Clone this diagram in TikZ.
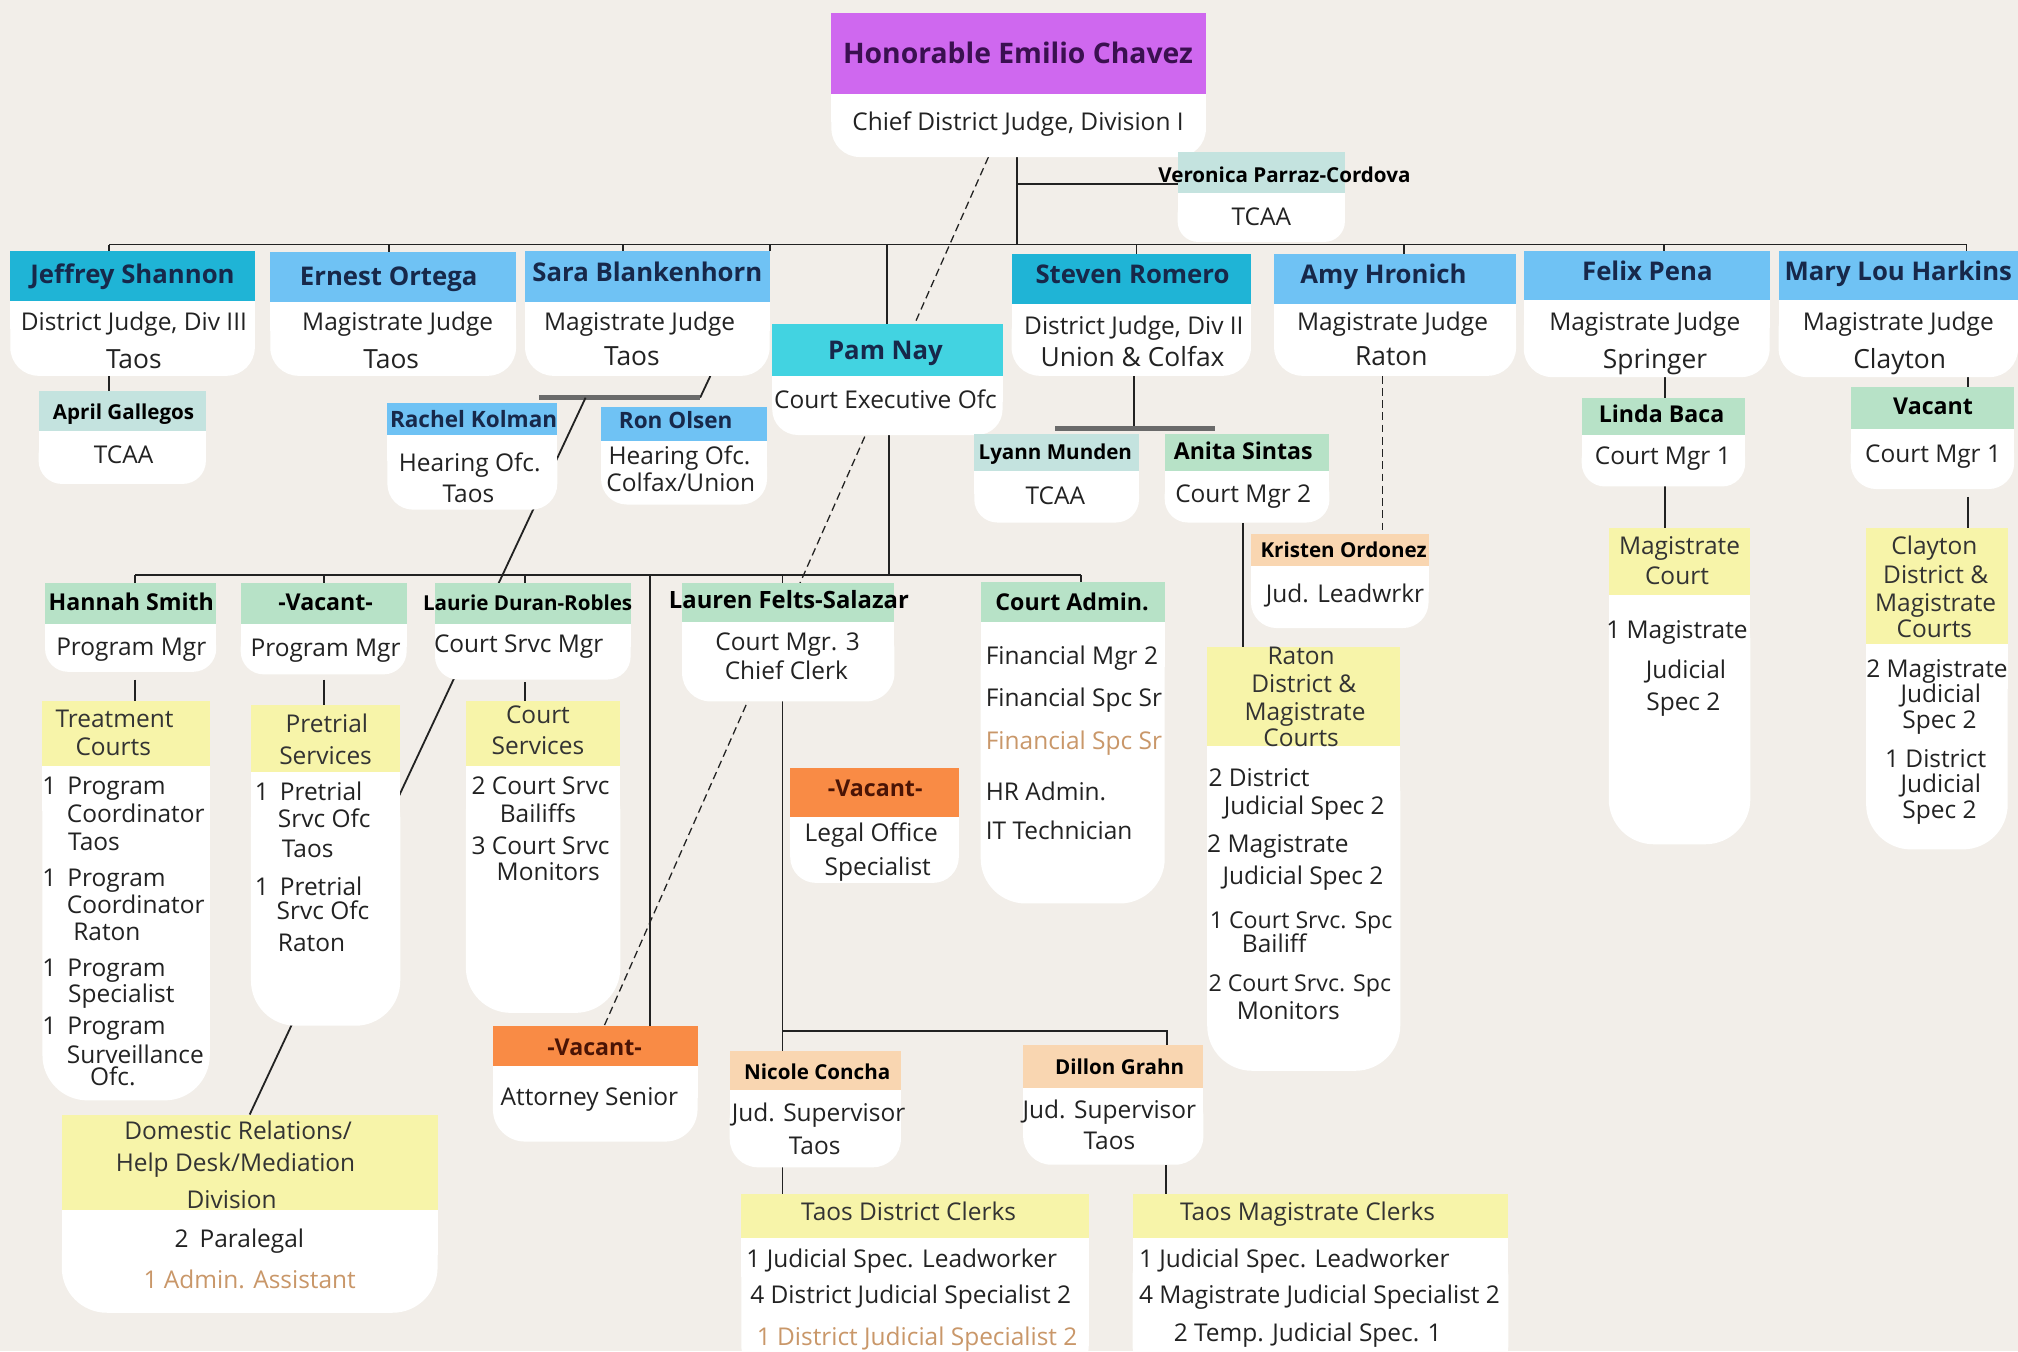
\documentclass[tikz,border=0pt]{standalone}
\usepackage{fontspec}
\setmainfont{Open Sans}
\usetikzlibrary{calc}
\definecolor{bg}{HTML}{F2EEE9}
\definecolor{purp}{HTML}{CF68EF}
\definecolor{purptxt}{HTML}{3A1050}
\definecolor{dcyan}{HTML}{1FB4D6}
\definecolor{lblue}{HTML}{6FC2F4}
\definecolor{pcyan}{HTML}{42D3E1}
\definecolor{lteal}{HTML}{C4E3DF}
\definecolor{lgreen}{HTML}{B7E2C7}
\definecolor{yel}{HTML}{F7F4A9}
\definecolor{peach}{HTML}{F9D6B1}
\definecolor{orng}{HTML}{F98B45}
\definecolor{tanc}{HTML}{C99769}
\definecolor{navy}{HTML}{17284A}
\definecolor{ink}{HTML}{222222}
\definecolor{barc}{HTML}{6A6A6A}
\definecolor{vactxt}{HTML}{4A1405}
\pgfdeclarelayer{bgl}
\pgfdeclarelayer{cn}
\pgfsetlayers{bgl,cn,main}
\tikzset{
  hdr/.style={inner sep=0pt, outer sep=0pt, draw=none},
  txt/.style={inner sep=0pt, outer sep=0pt, text=ink, text height=0.72em, text depth=0pt, yshift=-3.5pt, font=\fontsize{19}{22}\selectfont},
  nm/.style={font=\fontsize{20}{24}\selectfont\bfseries, text=navy},
  nmb/.style={font=\fontsize{17.5}{21}\selectfont\bfseries, text=navy},
  sn/.style={font=\fontsize{16}{19}\selectfont\bfseries, text=black},
  snb/.style={font=\fontsize{18}{21}\selectfont\bfseries, text=black},
  loc/.style={font=\fontsize{20.5}{24}\selectfont},
  smt/.style={font=\fontsize{18}{21}\selectfont},
  hy/.style={text=black!80},
  tanw/.style={text=tanc},
  lw/.style={anchor=west},
  conn/.style={draw=ink, line width=1.4pt},
  grbar/.style={draw=barc, line width=3.5pt},
  dsh/.style={draw=ink, line width=1pt, dash pattern=on 6pt off 3.5pt},
}
\newcounter{tnum}
\newcommand{\txtat}[4][]{\stepcounter{tnum}\node[txt,#1] (t\arabic{tnum}) at (#2,#3) {#4};}
% name, x1, y1, x2, yh, y2, color, radius
\newcommand{\orgbox}[8]{%
  \fill[white, rounded corners=#8pt] (#2,#5) rectangle (#4,#6);
  \fill[white] (#2,#5) rectangle (#4,{#5+#8});
  \pgfmathsetmacro\bw{#4-#2}\pgfmathsetmacro\bh{#5-#3}%
  \node[hdr, fill=#7, minimum width=\bw pt, minimum height=\bh pt, anchor=north west] (#1) at (#2,#3) {};
  \coordinate (#1b) at ({(#2+#4)/2},#6);
}
\begin{document}
\begin{tikzpicture}[x=1pt,y=-1pt]
\useasboundingbox (0,0) rectangle (1568,1050);
\begin{pgfonlayer}{bgl}
\fill[bg] (0,0) rectangle (1568,1050);
\end{pgfonlayer}
\clip (0,0) rectangle (1568,1050);

% ---------------- boxes ----------------
\orgbox{chav}{646}{10}{937}{73}{122}{purp}{22}
\orgbox{vero}{915}{118}{1045}{150}{188}{lteal}{16}
\orgbox{jeff}{8}{195}{198}{234}{292}{dcyan}{22}
\orgbox{ernest}{210}{196}{401}{235}{292}{lblue}{22}
\orgbox{sara}{408}{195}{598}{235}{292}{lblue}{22}
\orgbox{steven}{786}{197}{972}{236}{292}{dcyan}{22}
\orgbox{amy}{990}{197}{1178}{236}{292}{lblue}{22}
\orgbox{felix}{1184}{195}{1375}{233}{293}{lblue}{22}
\orgbox{mary}{1382}{195}{1568}{233}{293}{lblue}{22}
\orgbox{pam}{600}{252}{779}{292}{338}{pcyan}{20}
\orgbox{april}{30}{304}{160}{335}{376}{lteal}{18}
\orgbox{rachel}{301}{313}{433}{338}{396}{lblue}{20}
\orgbox{ron}{467}{316}{596}{343}{392}{lblue}{20}
\orgbox{lyann}{757}{337}{885}{366}{406}{lteal}{18}
\orgbox{anita}{905}{337}{1033}{366}{406}{lgreen}{18}
\orgbox{kris}{972}{415}{1110}{440}{488}{peach}{20}
\orgbox{linda}{1229}{309}{1356}{338}{378}{lgreen}{18}
\orgbox{vacone}{1438}{301}{1565}{333}{380}{lgreen}{20}
\orgbox{magc}{1250}{410}{1360}{462}{656}{yel}{35}
\orgbox{clay}{1450}{410}{1560}{500}{660}{yel}{35}
\orgbox{hannah}{35}{453}{168}{485}{522}{lgreen}{18}
\orgbox{vacpm}{187}{453}{316}{485}{524}{lgreen}{18}
\orgbox{laurie}{338}{453}{490}{485}{528}{lgreen}{18}
\orgbox{lauren}{530}{453}{695}{483}{545}{lgreen}{22}
\orgbox{cadm}{762}{452}{905}{483}{702}{lgreen}{35}
\orgbox{vaclg}{614}{597}{745}{635}{686}{orng}{20}
\orgbox{treat}{33}{545}{163}{595}{855}{yel}{35}
\orgbox{pret}{195}{548}{311}{600}{797}{yel}{35}
\orgbox{csrv}{362}{545}{482}{595}{787}{yel}{35}
\orgbox{raton}{938}{503}{1088}{580}{832}{yel}{35}
\orgbox{vacatt}{383}{797}{542}{828}{887}{orng}{25}
\orgbox{nicole}{567}{817}{700}{847}{907}{peach}{22}
\orgbox{dillon}{795}{812}{935}{845}{905}{peach}{22}
\orgbox{tdc}{576}{928}{846}{962}{1075}{yel}{30}
\orgbox{tmc}{880}{928}{1172}{962}{1075}{yel}{30}
\orgbox{dom}{48}{866}{340}{940}{1020}{yel}{35}

% ---------------- connectors ----------------
\begin{pgfonlayer}{cn}
\coordinate (busL) at (85,190);
\coordinate (busR) at (1528,190);
\draw[conn] (busL) -- (busR);
\coordinate (chl) at (790,122);
\draw[conn] (chl) -- (chl |- busL);
\draw[conn] (chl |- vero.west) ++(0,9) -- ($(vero.west)+(0,9)$);
\foreach \xx/\nn in {85/jeff,302/ernest,484/sara,883/steven,1091/amy,1293/felix,1528/mary}{
  \coordinate (tk\nn) at (\xx,190);
  \draw[conn] (tk\nn) -- (tk\nn |- \nn.north);
}
\draw[conn] (sara.north east |- busL) -- (sara.north east);
\draw[conn] (pam.north |- busL) -- (pam.north);
% chief's dashed line
\coordinate (ds0) at (768,122);
\draw[dsh] (ds0) -- ($(vacatt.north)+(7,0)$);
% Jeffrey -> April
\draw[conn] (tkjeff |- jeffb) -- (tkjeff |- april.north);
% Sara -> hearing officers
\coordinate (sb1) at (552,292);
\coordinate (sb2) at (544,309);
\coordinate (sb0) at (419,309);
\draw[conn] (sb1) -- (sb2);
\draw[grbar] (sb0) -- (sb2);
\coordinate (sl1) at (455,309);
\draw[conn] (sl1) -- (dom.north);
% Steven -> TCAA / Court Mgr 2
\coordinate (sv) at (881,292);
\coordinate (sbr1) at (820,333);
\coordinate (sbr2) at (944,333);
\draw[conn] (sv) -- (sv |- sbr1);
\draw[grbar] (sbr1) -- (sbr2);
% Anita -> Raton courts
\coordinate (an) at (966,406);
\draw[conn] (an) -- (an |- raton.north);
% Amy -> Kristen (dashed)
\coordinate (amd) at (1074,292);
\draw[dsh] (amd) -- (amd |- kris.north);
% Felix -> Linda -> Magistrate Court
\coordinate (fx) at (1294,293);
\draw[conn] (fx) -- (fx |- linda.north);
\draw[conn] (fx |- lindab) -- (fx |- magc.north);
% Mary -> Vacant -> Clayton
\coordinate (mx) at (1529,293);
\draw[conn] (mx) -- (mx |- vacone.north);
\draw[conn] ($(mx |- vaconeb)+(0,6)$) -- (mx |- clay.north);
% Pam -> lower bus
\coordinate (lbL) at (105,447);
\coordinate (lbR) at (840,447);
\coordinate (pv) at (691,338);
\draw[conn] (pv) -- (pv |- lbL);
\draw[conn] (lbL) -- (lbR);
\draw[conn] (lbR) -- (lbR |- cadm.north);
\foreach \xx/\nn in {105/hannah,252/vacpm,408/laurie,608/lauren}{
  \coordinate (lt\nn) at (\xx,447);
  \draw[conn] (lt\nn) -- (lt\nn |- \nn.north);
}
\coordinate (v505) at (505,447);
\draw[conn] (v505) -- (v505 |- vacatt.north);
% managers -> units
\draw[conn] ($(lthannah |- hannahb)+(0,6)$) -- (lthannah |- treat.north);
\draw[conn] ($(ltvacpm |- vacpmb)+(0,4)$) -- (ltvacpm |- pret.north);
\draw[conn] ($(ltlaurie |- laurieb)+(0,2)$) -- (ltlaurie |- csrv.north);
% Lauren -> supervisors
\coordinate (lz) at (608,545);
\coordinate (lh) at (608,801);
\coordinate (dg) at (907,801);
\draw[conn] (lz) -- (lz |- nicole.north);
\draw[conn] (lh) -- (dg) -- (dg |- dillon.north);
\draw[conn] (lz |- nicoleb) -- (lz |- tdc.north);
\coordinate (dz) at (906,905);
\draw[conn] (dz) -- (dz |- tmc.north);
\end{pgfonlayer}

% ---------------- texts ----------------
\txtat[font=\fontsize{22}{26}\selectfont\bfseries, text=purptxt]{791}{42}{Honorable Emilio Chavez}
\txtat{791}{94}{Chief District Judge, Division I}
\txtat[sn]{998}{135}{Veronica Parraz-Cordova}
\txtat{980}{168}{TCAA}

\txtat[nm]{103}{213}{Jeffrey Shannon}
\txtat{104}{250}{District Judge, Div III}
\txtat[loc]{104}{279}{Taos}
\txtat[nm]{302}{215}{Ernest Ortega}
\txtat{309}{250}{Magistrate Judge}
\txtat[loc]{304}{279}{Taos}
\txtat[nm]{503}{212}{Sara Blankenhorn}
\txtat{497}{250}{Magistrate Judge}
\txtat[loc]{491}{277}{Taos}
\txtat[nm]{880}{213}{Steven Romero}
\txtat{881}{253}{District Judge, Div II}
\txtat[loc]{880}{278}{Union \& Colfax}
\txtat[nm]{1075}{213}{Amy Hronich}
\txtat{1082}{250}{Magistrate Judge}
\txtat[loc]{1081}{277}{Raton}
\txtat[nm]{1280}{211}{Felix Pena}
\txtat{1278}{250}{Magistrate Judge}
\txtat[loc]{1286}{279}{Springer}
\txtat[nm]{1475}{211}{Mary Lou Harkins}
\txtat{1475}{250}{Magistrate Judge}
\txtat[loc]{1476}{279}{Clayton}

\txtat[nm]{688}{272}{Pam Nay}
\txtat{688}{310}{Court Executive Ofc}
\txtat[sn]{96}{319}{April Gallegos}
\txtat{96}{353}{TCAA}
\txtat[nmb]{368}{325}{Rachel Kolman}
\txtat{365}{359}{Hearing Ofc.}
\txtat{364}{383}{Taos}
\txtat[nmb]{525}{326}{Ron Olsen}
\txtat{528}{354}{Hearing Ofc.}
\txtat{529}{375}{Colfax/Union}
\txtat[sn]{820}{350}{Lyann Munden}
\txtat{820}{385}{TCAA}
\txtat[snb]{966}{350}{Anita Sintas}
\txtat{966}{383}{Court Mgr 2}
\txtat[sn]{1044}{426}{Kristen Ordonez}
\txtat{1045}{461}{Jud. Leadwrkr}
\txtat[snb]{1291}{321}{Linda Baca}
\txtat{1292}{354}{Court Mgr 1}
\txtat[snb]{1502}{315}{Vacant}
\txtat{1502}{352}{Court Mgr 1}

\txtat[hy]{1305}{424}{Magistrate}
\txtat[hy]{1303}{447}{Court}
\txtat{1303}{489}{1 Magistrate}
\txtat{1310}{520}{Judicial}
\txtat{1308}{545}{Spec 2}

\txtat[hy]{1503}{424}{Clayton}
\txtat[hy]{1504}{446}{District \&}
\txtat[hy]{1504}{468}{Magistrate}
\txtat[hy]{1503}{488}{Courts}
\txtat{1505}{519}{2 Magistrate}
\txtat{1508}{539}{Judicial}
\txtat{1507}{559}{Spec 2}
\txtat{1504}{589}{1 District}
\txtat{1508}{609}{Judicial}
\txtat{1507}{629}{Spec 2}

\txtat[snb]{102}{467}{Hannah Smith}
\txtat{102}{502}{Program Mgr}
\txtat[snb]{253}{467}{-Vacant-}
\txtat{253}{503}{Program Mgr}
\txtat[sn]{410}{467}{Laurie Duran-Robles}
\txtat{403}{500}{Court Srvc Mgr}
\txtat[font=\fontsize{18.5}{22}\selectfont\bfseries, text=black]{613}{466}{Lauren Felts-Salazar}
\txtat{612}{498}{Court Mgr. 3}
\txtat{611}{521}{Chief Clerk}
\txtat[snb]{833}{467}{Court Admin.}
\txtat[lw]{766}{509}{Financial Mgr 2}
\txtat[lw]{766}{542}{Financial Spc Sr}
\txtat[lw,tanw]{766}{575}{Financial Spc Sr}
\txtat[lw]{766}{615}{HR Admin.}
\txtat[lw]{766}{645}{IT Technician}
\txtat[snb, text=vactxt]{680}{612}{-Vacant-}
\txtat{677}{647}{Legal Office}
\txtat{682}{673}{Specialist}

\txtat[hy]{89}{558}{Treatment}
\txtat[hy]{88}{580}{Courts}
\txtat[lw]{33}{610}{1\hspace{0.45em}Program}
\txtat[lw]{52}{632}{Coordinator}
\txtat[lw]{53}{654}{Taos}
\txtat[lw]{33}{682}{1\hspace{0.45em}Program}
\txtat[lw]{52}{703}{Coordinator}
\txtat[lw]{57}{724}{Raton}
\txtat[lw]{33}{752}{1\hspace{0.45em}Program}
\txtat[lw]{53}{772}{Specialist}
\txtat[lw]{33}{797}{1\hspace{0.45em}Program}
\txtat[lw]{52}{819}{Surveillance}
\txtat[lw]{70}{836}{Ofc.}

\txtat[hy]{254}{562}{Pretrial}
\txtat[hy]{253}{587}{Services}
\txtat[lw]{198}{615}{1\hspace{0.45em}Pretrial}
\txtat[lw]{216}{636}{Srvc Ofc}
\txtat[lw]{219}{659}{Taos}
\txtat[lw]{198}{689}{1\hspace{0.45em}Pretrial}
\txtat[lw]{215}{707}{Srvc Ofc}
\txtat[lw]{216}{732}{Raton}

\txtat[hy]{418}{555}{Court}
\txtat[hy]{418}{579}{Services}
\txtat{420}{610}{2 Court Srvc}
\txtat{418}{632}{Bailiffs}
\txtat{420}{657}{3 Court Srvc}
\txtat{426}{677}{Monitors}

\txtat[hy]{1011}{509}{Raton}
\txtat[hy]{1013}{531}{District \&}
\txtat[hy]{1014}{553}{Magistrate}
\txtat[hy]{1011}{573}{Courts}
\txtat[lw]{939}{604}{2 District}
\txtat[lw]{951}{626}{Judicial Spec 2}
\txtat[lw]{938}{655}{2 Magistrate}
\txtat[lw]{950}{680}{Judicial Spec 2}
\txtat[lw,smt]{940}{714}{1 Court Srvc. Spc}
\txtat[lw]{965}{733}{Bailiff}
\txtat[lw,smt]{939}{763}{2 Court Srvc. Spc}
\txtat[lw]{961}{785}{Monitors}

\txtat[snb, text=vactxt]{462}{813}{-Vacant-}
\txtat{458}{852}{Attorney Senior}
\txtat[sn]{635}{832}{Nicole Concha}
\txtat{636}{864}{Jud. Supervisor}
\txtat{633}{890}{Taos}
\txtat[sn]{870}{828}{Dillon Grahn}
\txtat{862}{862}{Jud. Supervisor}
\txtat{862}{886}{Taos}

\txtat[hy]{706}{941}{Taos District Clerks}
\txtat[lw]{580}{978}{1 Judicial Spec. Leadworker}
\txtat[lw]{583}{1006}{4 District Judicial Specialist 2}
\txtat[lw,tanw]{588}{1038}{1 District Judicial Specialist 2}
\txtat[hy]{1016}{941}{Taos Magistrate Clerks}
\txtat[lw]{885}{978}{1 Judicial Spec. Leadworker}
\txtat[lw]{885}{1006}{4 Magistrate Judicial Specialist 2}
\txtat[lw]{912}{1035}{2 Temp. Judicial Spec. 1}

\txtat[hy]{185}{878}{Domestic Relations/}
\txtat[hy]{183}{903}{Help Desk/Mediation}
\txtat[hy]{180}{932}{Division}
\txtat{186}{962}{2\hspace{0.45em}Paralegal}
\txtat[tanw]{194}{994}{1 Admin. Assistant}
\end{tikzpicture}
\end{document}
